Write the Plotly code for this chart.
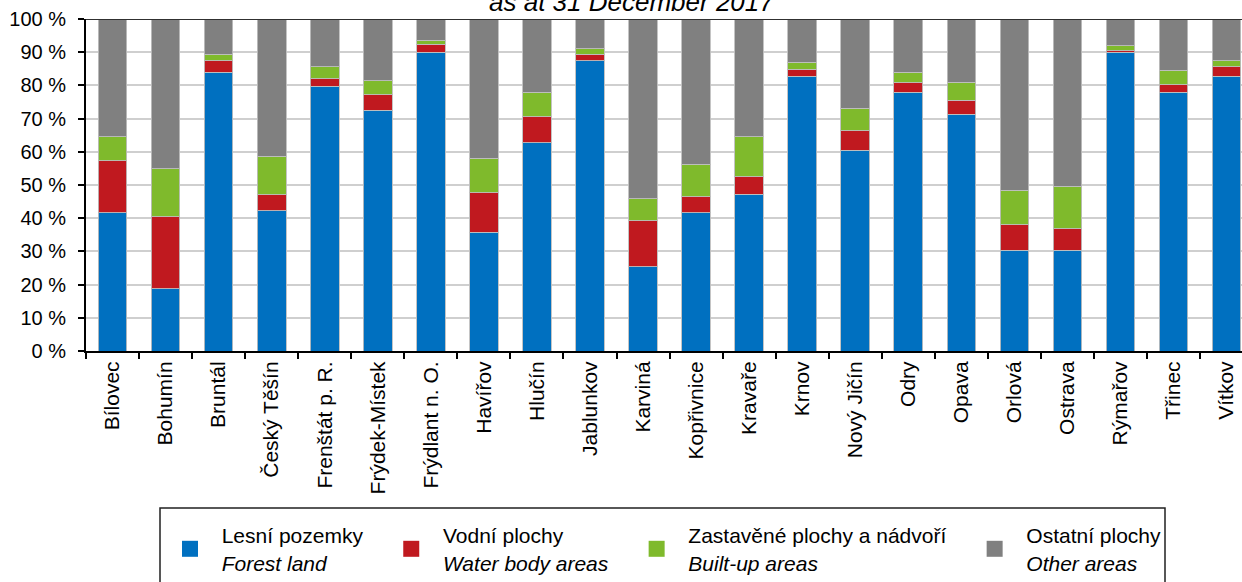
import plotly.graph_objects as go

towns = ["Bílovec", "Bohumín", "Bruntál", "Český Těšín", "Frenštát p. R.", "Frýdek-Místek",
         "Frýdlant n. O.", "Havířov", "Hlučín", "Jablunkov", "Karviná", "Kopřivnice",
         "Kravaře", "Krnov", "Nový Jičín", "Odry", "Opava", "Orlová", "Ostrava",
         "Rýmařov", "Třinec", "Vítkov"]

forest = [41.7, 18.7, 83.9, 42.3, 79.7, 72.5, 90.0, 35.7, 62.8, 87.5, 25.4, 41.7,
          47.2, 82.7, 60.4, 77.9, 71.3, 30.3, 30.3, 90.0, 77.9, 82.7]
water = [15.6, 21.7, 3.5, 4.7, 2.3, 4.7, 2.4, 11.9, 7.7, 1.9, 13.8, 4.7,
         5.3, 2.2, 5.9, 2.9, 4.2, 7.7, 6.5, 0.4, 2.3, 2.9]
built = [7.3, 14.5, 2.0, 11.6, 3.6, 4.2, 1.2, 10.4, 7.4, 1.7, 6.7, 9.8,
         12.1, 2.0, 6.8, 3.2, 5.5, 10.4, 12.9, 1.5, 4.4, 1.9]
other = [35.4, 45.1, 10.6, 41.4, 14.4, 18.6, 6.4, 42.0, 22.1, 8.9, 54.1, 43.8,
         35.4, 13.1, 26.9, 16.0, 19.0, 51.6, 50.3, 8.1, 15.4, 12.5]

series_cz = ["Lesní pozemky", "Vodní plochy", "Zastavěné plochy a nádvoří", "Ostatní plochy"]
series_en = ["Forest land", "Water body areas", "Built-up areas", "Other areas"]
colors = ["#0070C0", "#C0191F", "#7FBA2C", "#808080"]
yticks = list(range(0, 101, 10))
ytick_labels = [f"{v} %" for v in yticks]

W, H = 1242, 582
ML, MR, MT, MB = 86, 0, 19, 231
PH = H - MT - MB
PW = W - ML - MR

FONT = "Liberation Sans, Arial, Helvetica, sans-serif"
NB = "\u00a0"
trail = [4, 4, 4, 0]

fig = go.Figure()
for vals, cz, col in zip([forest, water, built, other], series_cz, colors):
    fig.add_trace(go.Bar(
        x=towns, y=vals, name=cz, marker_color=col,
        marker_line=dict(color="rgba(190,190,190,0.9)", width=1),
        showlegend=False,
    ))

for cz, en, col, tr in zip(series_cz, series_en, colors, trail):
    fig.add_trace(go.Scatter(
        x=[None], y=[None], mode="markers",
        marker=dict(symbol="square", size=16, color=col),
        name=NB * 2 + cz + NB * tr + "<br>" + NB * 2 + "<i>" + en + "</i>" + NB * tr,
        showlegend=True,
    ))

fig.update_layout(
    width=W, height=H,
    margin=dict(l=ML, r=MR, t=MT, b=MB, pad=0, autoexpand=False),
    barmode="stack", bargap=0.46,
    plot_bgcolor="white", paper_bgcolor="white",
    font=dict(family=FONT, color="black", size=20),
    legend=dict(
        orientation="h", x=(170 - ML) / PW, xanchor="left",
        y=(MT + PH - 515) / PH, yanchor="top",
        bgcolor="rgba(0,0,0,0)", borderwidth=0,
        font=dict(family=FONT, size=21, color="black"),
        itemclick=False, traceorder="normal",
    ),
    xaxis=dict(
        type="category", range=[-0.5, 21.29], automargin=False,
        showline=True, linecolor="black", linewidth=2,
        ticks="outside", ticklen=6, tickwidth=2, tickcolor="black",
        tickson="boundaries", tickangle=-90,
        tickfont=dict(family=FONT, size=21, color="black"),
        showgrid=False,
    ),
    yaxis=dict(
        range=[0, 100], tickmode="array", tickvals=yticks, ticktext=ytick_labels,
        automargin=False,
        showline=True, linecolor="black", linewidth=2,
        ticks="outside", ticklen=6, tickwidth=2, tickcolor="black",
        ticklabelstandoff=8,
        tickfont=dict(family=FONT, size=20, color="black"),
        showgrid=True, gridcolor="#CFCFCF", gridwidth=2,
        zeroline=False,
    ),
    shapes=[
        dict(type="line", xref="paper", yref="y", x0=0, x1=1, y0=100, y1=100,
             line=dict(color="#303030", width=2), layer="above"),
        dict(type="rect", xref="paper", yref="paper",
             x0=(160 - ML) / PW, x1=(1165 - ML) / PW,
             y0=(MT + PH - 600) / PH, y1=(MT + PH - 508) / PH,
             line=dict(color="#202020", width=1.5), fillcolor="rgba(0,0,0,0)", layer="above"),
    ],
    annotations=[
        dict(text="<i>as at 31 December 2017</i>", xref="paper", yref="paper",
             x=(632 - ML) / PW, y=1, xanchor="center", yanchor="bottom", yshift=0,
             showarrow=False, font=dict(family=FONT, size=26, color="black")),
    ],
)

fig.write_html(
    "out.html",
    config={"displayModeBar": False, "staticPlot": True},
    post_script="document.body.style.margin='0';document.body.style.overflow='hidden';",
)
